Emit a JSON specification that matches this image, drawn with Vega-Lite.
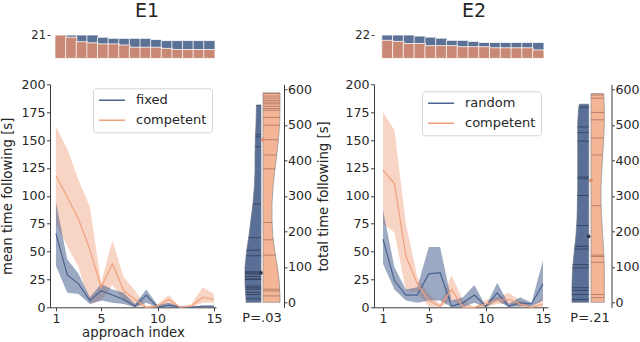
{
  "$schema": "https://vega.github.io/schema/vega-lite/v6.json",
  "background": "white",
  "padding": {"left": 0, "top": 2, "right": 0, "bottom": 0},
  "autosize": {"type": "pad"},
  "config": {
    "font": "DejaVu Sans",
    "view": {"stroke": null},
    "axis": {"labelFont": "DejaVu Sans", "titleFont": "DejaVu Sans", "labelFontSize": 12.6, "titleFontSize": 13.3, "titleFontWeight": "normal", "labelColor": "#262626", "titleColor": "#262626", "domainColor": "#3c3c3c", "tickColor": "#3c3c3c", "tickSize": 3.5, "grid": false, "labelPadding": 1.5, "titlePadding": 5, "labelOverlap": false, "labelFlush": false},
    "title": {"font": "DejaVu Sans", "fontSize": 19, "fontWeight": "normal", "color": "#262626"}
  },
  "datasets": {
    "curves": [
      {"exp":"E1","cond":"fixed","i":1,"m":66,"lo":37,"hi":94},
      {"exp":"E1","cond":"fixed","i":2,"m":29,"lo":13,"hi":43},
      {"exp":"E1","cond":"fixed","i":3,"m":21,"lo":12,"hi":30},
      {"exp":"E1","cond":"fixed","i":4,"m":6,"lo":3,"hi":9},
      {"exp":"E1","cond":"fixed","i":5,"m":15,"lo":6,"hi":21},
      {"exp":"E1","cond":"fixed","i":6,"m":11,"lo":4,"hi":16},
      {"exp":"E1","cond":"fixed","i":7,"m":7,"lo":3,"hi":13},
      {"exp":"E1","cond":"fixed","i":8,"m":1,"lo":0,"hi":3},
      {"exp":"E1","cond":"fixed","i":9,"m":11,"lo":4,"hi":16},
      {"exp":"E1","cond":"fixed","i":10,"m":0,"lo":0,"hi":2},
      {"exp":"E1","cond":"fixed","i":11,"m":2,"lo":0,"hi":4},
      {"exp":"E1","cond":"fixed","i":12,"m":0,"lo":0,"hi":1},
      {"exp":"E1","cond":"fixed","i":13,"m":0,"lo":0,"hi":1},
      {"exp":"E1","cond":"fixed","i":14,"m":1,"lo":0,"hi":1},
      {"exp":"E1","cond":"fixed","i":15,"m":1,"lo":0,"hi":1},
      {"exp":"E1","cond":"competent","i":1,"m":118,"lo":75,"hi":162},
      {"exp":"E1","cond":"competent","i":2,"m":99,"lo":55,"hi":142},
      {"exp":"E1","cond":"competent","i":3,"m":79,"lo":36,"hi":114},
      {"exp":"E1","cond":"competent","i":4,"m":52,"lo":3,"hi":90},
      {"exp":"E1","cond":"competent","i":5,"m":18,"lo":6,"hi":22},
      {"exp":"E1","cond":"competent","i":6,"m":39,"lo":20,"hi":60},
      {"exp":"E1","cond":"competent","i":7,"m":15,"lo":6,"hi":27},
      {"exp":"E1","cond":"competent","i":8,"m":7,"lo":1,"hi":15},
      {"exp":"E1","cond":"competent","i":9,"m":0,"lo":0,"hi":1},
      {"exp":"E1","cond":"competent","i":10,"m":1,"lo":0,"hi":3},
      {"exp":"E1","cond":"competent","i":11,"m":7,"lo":3,"hi":11},
      {"exp":"E1","cond":"competent","i":12,"m":0,"lo":0,"hi":0},
      {"exp":"E1","cond":"competent","i":13,"m":1,"lo":0,"hi":3},
      {"exp":"E1","cond":"competent","i":14,"m":9,"lo":4,"hi":18},
      {"exp":"E1","cond":"competent","i":15,"m":7,"lo":4,"hi":12},
      {"exp":"E2","cond":"random","i":1,"m":61,"lo":39,"hi":87},
      {"exp":"E2","cond":"random","i":2,"m":24,"lo":16,"hi":36},
      {"exp":"E2","cond":"random","i":3,"m":11,"lo":6,"hi":16},
      {"exp":"E2","cond":"random","i":4,"m":11,"lo":4,"hi":18},
      {"exp":"E2","cond":"random","i":5,"m":30,"lo":6,"hi":54},
      {"exp":"E2","cond":"random","i":6,"m":31,"lo":6,"hi":54},
      {"exp":"E2","cond":"random","i":7,"m":1,"lo":0,"hi":6},
      {"exp":"E2","cond":"random","i":8,"m":4,"lo":0,"hi":9},
      {"exp":"E2","cond":"random","i":9,"m":11,"lo":4,"hi":20},
      {"exp":"E2","cond":"random","i":10,"m":1,"lo":0,"hi":1},
      {"exp":"E2","cond":"random","i":11,"m":13,"lo":6,"hi":22},
      {"exp":"E2","cond":"random","i":12,"m":1,"lo":0,"hi":3},
      {"exp":"E2","cond":"random","i":13,"m":4,"lo":1,"hi":9},
      {"exp":"E2","cond":"random","i":14,"m":3,"lo":1,"hi":4},
      {"exp":"E2","cond":"random","i":15,"m":21,"lo":6,"hi":42},
      {"exp":"E2","cond":"competent","i":1,"m":123,"lo":75,"hi":175},
      {"exp":"E2","cond":"competent","i":2,"m":111,"lo":67,"hi":159},
      {"exp":"E2","cond":"competent","i":3,"m":46,"lo":15,"hi":75},
      {"exp":"E2","cond":"competent","i":4,"m":21,"lo":13,"hi":27},
      {"exp":"E2","cond":"competent","i":5,"m":6,"lo":1,"hi":12},
      {"exp":"E2","cond":"competent","i":6,"m":1,"lo":0,"hi":3},
      {"exp":"E2","cond":"competent","i":7,"m":16,"lo":6,"hi":29},
      {"exp":"E2","cond":"competent","i":8,"m":0,"lo":0,"hi":6},
      {"exp":"E2","cond":"competent","i":9,"m":0,"lo":0,"hi":0},
      {"exp":"E2","cond":"competent","i":10,"m":3,"lo":0,"hi":7},
      {"exp":"E2","cond":"competent","i":11,"m":6,"lo":3,"hi":9},
      {"exp":"E2","cond":"competent","i":12,"m":7,"lo":3,"hi":13},
      {"exp":"E2","cond":"competent","i":13,"m":3,"lo":0,"hi":6},
      {"exp":"E2","cond":"competent","i":14,"m":0,"lo":0,"hi":1},
      {"exp":"E2","cond":"competent","i":15,"m":3,"lo":0,"hi":9}
    ],
    "counts": [
      {"exp":"E1","cond":"fixed","i":1,"n":21},{"exp":"E1","cond":"fixed","i":2,"n":21},{"exp":"E1","cond":"fixed","i":3,"n":21},{"exp":"E1","cond":"fixed","i":4,"n":21},{"exp":"E1","cond":"fixed","i":5,"n":19},{"exp":"E1","cond":"fixed","i":6,"n":18},{"exp":"E1","cond":"fixed","i":7,"n":18},{"exp":"E1","cond":"fixed","i":8,"n":18},{"exp":"E1","cond":"fixed","i":9,"n":18},{"exp":"E1","cond":"fixed","i":10,"n":17},{"exp":"E1","cond":"fixed","i":11,"n":16},{"exp":"E1","cond":"fixed","i":12,"n":16},{"exp":"E1","cond":"fixed","i":13,"n":16},{"exp":"E1","cond":"fixed","i":14,"n":16},{"exp":"E1","cond":"fixed","i":15,"n":16},
      {"exp":"E1","cond":"competent","i":1,"n":21},{"exp":"E1","cond":"competent","i":2,"n":19},{"exp":"E1","cond":"competent","i":3,"n":15},{"exp":"E1","cond":"competent","i":4,"n":14},{"exp":"E1","cond":"competent","i":5,"n":13},{"exp":"E1","cond":"competent","i":6,"n":13},{"exp":"E1","cond":"competent","i":7,"n":12},{"exp":"E1","cond":"competent","i":8,"n":10},{"exp":"E1","cond":"competent","i":9,"n":10},{"exp":"E1","cond":"competent","i":10,"n":10},{"exp":"E1","cond":"competent","i":11,"n":9},{"exp":"E1","cond":"competent","i":12,"n":8},{"exp":"E1","cond":"competent","i":13,"n":8},{"exp":"E1","cond":"competent","i":14,"n":8},{"exp":"E1","cond":"competent","i":15,"n":8},
      {"exp":"E2","cond":"random","i":1,"n":22},{"exp":"E2","cond":"random","i":2,"n":22},{"exp":"E2","cond":"random","i":3,"n":22},{"exp":"E2","cond":"random","i":4,"n":21},{"exp":"E2","cond":"random","i":5,"n":20},{"exp":"E2","cond":"random","i":6,"n":19},{"exp":"E2","cond":"random","i":7,"n":17},{"exp":"E2","cond":"random","i":8,"n":17},{"exp":"E2","cond":"random","i":9,"n":16},{"exp":"E2","cond":"random","i":10,"n":15},{"exp":"E2","cond":"random","i":11,"n":15},{"exp":"E2","cond":"random","i":12,"n":15},{"exp":"E2","cond":"random","i":13,"n":15},{"exp":"E2","cond":"random","i":14,"n":15},{"exp":"E2","cond":"random","i":15,"n":15},
      {"exp":"E2","cond":"competent","i":1,"n":17},{"exp":"E2","cond":"competent","i":2,"n":16},{"exp":"E2","cond":"competent","i":3,"n":14},{"exp":"E2","cond":"competent","i":4,"n":14},{"exp":"E2","cond":"competent","i":5,"n":12},{"exp":"E2","cond":"competent","i":6,"n":12},{"exp":"E2","cond":"competent","i":7,"n":12},{"exp":"E2","cond":"competent","i":8,"n":11},{"exp":"E2","cond":"competent","i":9,"n":11},{"exp":"E2","cond":"competent","i":10,"n":11},{"exp":"E2","cond":"competent","i":11,"n":10},{"exp":"E2","cond":"competent","i":12,"n":10},{"exp":"E2","cond":"competent","i":13,"n":10},{"exp":"E2","cond":"competent","i":14,"n":10},{"exp":"E2","cond":"competent","i":15,"n":8}
    ],
    "violin": [
      {"exp":"E1","cond":"fixed","kind":"outline","v":0,"w":15},{"exp":"E1","cond":"fixed","kind":"outline","v":11,"w":15},{"exp":"E1","cond":"fixed","kind":"outline","v":55,"w":16},{"exp":"E1","cond":"fixed","kind":"outline","v":100,"w":16},{"exp":"E1","cond":"fixed","kind":"outline","v":145,"w":14.3},{"exp":"E1","cond":"fixed","kind":"outline","v":189,"w":12},{"exp":"E1","cond":"fixed","kind":"outline","v":234,"w":10},{"exp":"E1","cond":"fixed","kind":"outline","v":279,"w":8},{"exp":"E1","cond":"fixed","kind":"outline","v":323,"w":6.7},{"exp":"E1","cond":"fixed","kind":"outline","v":369,"w":6},{"exp":"E1","cond":"fixed","kind":"outline","v":414,"w":6},{"exp":"E1","cond":"fixed","kind":"outline","v":458,"w":5.7},{"exp":"E1","cond":"fixed","kind":"outline","v":503,"w":5},{"exp":"E1","cond":"fixed","kind":"outline","v":555,"w":4.5},
      {"exp":"E1","cond":"fixed","kind":"stick","v":555,"w":4.5},{"exp":"E1","cond":"fixed","kind":"stick","v":472,"w":5.5},{"exp":"E1","cond":"fixed","kind":"stick","v":466,"w":5.5},{"exp":"E1","cond":"fixed","kind":"stick","v":438,"w":5.8},{"exp":"E1","cond":"fixed","kind":"stick","v":277,"w":8},{"exp":"E1","cond":"fixed","kind":"stick","v":182,"w":12.3},{"exp":"E1","cond":"fixed","kind":"stick","v":147,"w":14.2},{"exp":"E1","cond":"fixed","kind":"stick","v":131,"w":14.8},{"exp":"E1","cond":"fixed","kind":"stick","v":86,"w":16},{"exp":"E1","cond":"fixed","kind":"stick","v":83,"w":16},{"exp":"E1","cond":"fixed","kind":"stick","v":80,"w":16},{"exp":"E1","cond":"fixed","kind":"stick","v":73,"w":16},{"exp":"E1","cond":"fixed","kind":"stick","v":66,"w":16},{"exp":"E1","cond":"fixed","kind":"stick","v":64,"w":16},{"exp":"E1","cond":"fixed","kind":"stick","v":46,"w":15.8},{"exp":"E1","cond":"fixed","kind":"stick","v":41,"w":15.7},{"exp":"E1","cond":"fixed","kind":"stick","v":37,"w":15.6},{"exp":"E1","cond":"fixed","kind":"stick","v":28,"w":15.4},{"exp":"E1","cond":"fixed","kind":"stick","v":22,"w":15.3},{"exp":"E1","cond":"fixed","kind":"stick","v":10,"w":15},
      {"exp":"E1","cond":"fixed","kind":"median","v":83,"w":0},
      {"exp":"E1","cond":"competent","kind":"outline","v":0,"w":17},{"exp":"E1","cond":"competent","kind":"outline","v":11,"w":17},{"exp":"E1","cond":"competent","kind":"outline","v":55,"w":16.4},{"exp":"E1","cond":"competent","kind":"outline","v":100,"w":14.4},{"exp":"E1","cond":"competent","kind":"outline","v":145,"w":11.7},{"exp":"E1","cond":"competent","kind":"outline","v":189,"w":9.7},{"exp":"E1","cond":"competent","kind":"outline","v":234,"w":9},{"exp":"E1","cond":"competent","kind":"outline","v":279,"w":9},{"exp":"E1","cond":"competent","kind":"outline","v":323,"w":10},{"exp":"E1","cond":"competent","kind":"outline","v":369,"w":11.7},{"exp":"E1","cond":"competent","kind":"outline","v":414,"w":13.7},{"exp":"E1","cond":"competent","kind":"outline","v":458,"w":15.4},{"exp":"E1","cond":"competent","kind":"outline","v":503,"w":16.7},{"exp":"E1","cond":"competent","kind":"outline","v":547,"w":17},{"exp":"E1","cond":"competent","kind":"outline","v":590,"w":17},
      {"exp":"E1","cond":"competent","kind":"stick","v":588,"w":17},{"exp":"E1","cond":"competent","kind":"stick","v":581,"w":17},{"exp":"E1","cond":"competent","kind":"stick","v":575,"w":17},{"exp":"E1","cond":"competent","kind":"stick","v":569,"w":17},{"exp":"E1","cond":"competent","kind":"stick","v":564,"w":17},{"exp":"E1","cond":"competent","kind":"stick","v":559,"w":17},{"exp":"E1","cond":"competent","kind":"stick","v":552,"w":17},{"exp":"E1","cond":"competent","kind":"stick","v":546,"w":17},{"exp":"E1","cond":"competent","kind":"stick","v":541,"w":17},{"exp":"E1","cond":"competent","kind":"stick","v":521,"w":16.9},{"exp":"E1","cond":"competent","kind":"stick","v":499,"w":16.6},{"exp":"E1","cond":"competent","kind":"stick","v":458,"w":15.4},{"exp":"E1","cond":"competent","kind":"stick","v":415,"w":13.7},{"exp":"E1","cond":"competent","kind":"stick","v":376,"w":12},{"exp":"E1","cond":"competent","kind":"stick","v":225,"w":9.1},{"exp":"E1","cond":"competent","kind":"stick","v":176,"w":10.1},{"exp":"E1","cond":"competent","kind":"stick","v":133,"w":12.3},{"exp":"E1","cond":"competent","kind":"stick","v":37,"w":16.7},{"exp":"E1","cond":"competent","kind":"stick","v":32,"w":16.8},{"exp":"E1","cond":"competent","kind":"stick","v":18,"w":16.9},
      {"exp":"E1","cond":"competent","kind":"median","v":458,"w":0},
      {"exp":"E2","cond":"random","kind":"outline","v":0,"w":16.7},{"exp":"E2","cond":"random","kind":"outline","v":9,"w":16.7},{"exp":"E2","cond":"random","kind":"outline","v":54,"w":16.7},{"exp":"E2","cond":"random","kind":"outline","v":99,"w":16},{"exp":"E2","cond":"random","kind":"outline","v":144,"w":14.4},{"exp":"E2","cond":"random","kind":"outline","v":189,"w":12.7},{"exp":"E2","cond":"random","kind":"outline","v":233,"w":11.7},{"exp":"E2","cond":"random","kind":"outline","v":324,"w":11},{"exp":"E2","cond":"random","kind":"outline","v":413,"w":11},{"exp":"E2","cond":"random","kind":"outline","v":503,"w":11},{"exp":"E2","cond":"random","kind":"outline","v":540,"w":10.3},{"exp":"E2","cond":"random","kind":"outline","v":558,"w":9.4},
      {"exp":"E2","cond":"random","kind":"stick","v":550,"w":9.7},{"exp":"E2","cond":"random","kind":"stick","v":494,"w":11},{"exp":"E2","cond":"random","kind":"stick","v":478,"w":11},{"exp":"E2","cond":"random","kind":"stick","v":454,"w":11},{"exp":"E2","cond":"random","kind":"stick","v":353,"w":11},{"exp":"E2","cond":"random","kind":"stick","v":348,"w":11},{"exp":"E2","cond":"random","kind":"stick","v":301,"w":11.2},{"exp":"E2","cond":"random","kind":"stick","v":216,"w":12},{"exp":"E2","cond":"random","kind":"stick","v":158,"w":13.9},{"exp":"E2","cond":"random","kind":"stick","v":150,"w":14.2},{"exp":"E2","cond":"random","kind":"stick","v":106,"w":15.8},{"exp":"E2","cond":"random","kind":"stick","v":97,"w":16},{"exp":"E2","cond":"random","kind":"stick","v":41,"w":16.7},{"exp":"E2","cond":"random","kind":"stick","v":34,"w":16.7},{"exp":"E2","cond":"random","kind":"stick","v":22,"w":16.7},{"exp":"E2","cond":"random","kind":"stick","v":8,"w":16.7},
      {"exp":"E2","cond":"random","kind":"median","v":186,"w":0},
      {"exp":"E2","cond":"competent","kind":"outline","v":0,"w":13.3},{"exp":"E2","cond":"competent","kind":"outline","v":9,"w":13.3},{"exp":"E2","cond":"competent","kind":"outline","v":54,"w":13.3},{"exp":"E2","cond":"competent","kind":"outline","v":99,"w":13.3},{"exp":"E2","cond":"competent","kind":"outline","v":144,"w":12.7},{"exp":"E2","cond":"competent","kind":"outline","v":189,"w":11.7},{"exp":"E2","cond":"competent","kind":"outline","v":233,"w":10.7},{"exp":"E2","cond":"competent","kind":"outline","v":278,"w":10},{"exp":"E2","cond":"competent","kind":"outline","v":324,"w":10},{"exp":"E2","cond":"competent","kind":"outline","v":368,"w":10.7},{"exp":"E2","cond":"competent","kind":"outline","v":413,"w":11.7},{"exp":"E2","cond":"competent","kind":"outline","v":458,"w":12.7},{"exp":"E2","cond":"competent","kind":"outline","v":503,"w":13.3},{"exp":"E2","cond":"competent","kind":"outline","v":548,"w":13.3},{"exp":"E2","cond":"competent","kind":"outline","v":588,"w":12.7},
      {"exp":"E2","cond":"competent","kind":"stick","v":584,"w":12.7},{"exp":"E2","cond":"competent","kind":"stick","v":575,"w":12.8},{"exp":"E2","cond":"competent","kind":"stick","v":535,"w":13.3},{"exp":"E2","cond":"competent","kind":"stick","v":514,"w":13.3},{"exp":"E2","cond":"competent","kind":"stick","v":463,"w":12.8},{"exp":"E2","cond":"competent","kind":"stick","v":415,"w":11.7},{"exp":"E2","cond":"competent","kind":"stick","v":272,"w":10.1},{"exp":"E2","cond":"competent","kind":"stick","v":133,"w":12.9},{"exp":"E2","cond":"competent","kind":"stick","v":129,"w":13},{"exp":"E2","cond":"competent","kind":"stick","v":113,"w":13.2},{"exp":"E2","cond":"competent","kind":"stick","v":22,"w":13.3},{"exp":"E2","cond":"competent","kind":"stick","v":13,"w":13.3},
      {"exp":"E2","cond":"competent","kind":"median","v":343,"w":0}
    ]
  },
  "columns": 7,
  "align": "each",
  "bounds": "flush",
  "spacing": {"row": 25.3, "column": 2},
  "resolve": {"scale": {"color": "independent", "x": "independent", "y": "independent"}, "legend": {"color": "independent"}},
  "concat": [
    {
      "width": 170, "height": 23.4,
      "title": {"text": "E1", "anchor": "middle", "dx": 12, "offset": 8},
      "data": {"name": "counts"},
      "transform": [{"filter": "datum.exp == 'E1'"}],
      "layer": [
        {"transform": [{"filter": "datum.cond == 'fixed'"}], "mark": {"type": "bar", "orient": "vertical", "width": 11.3, "color": "#5c7196", "stroke": "white", "strokeWidth": 0.8},
         "encoding": {
          "x": {"field": "i", "type": "quantitative", "scale": {"domain": [0.47, 15.53], "nice": false, "zero": false}, "axis": null},
          "y": {"field": "n", "type": "quantitative", "stack": null, "scale": {"domain": [0, 21], "nice": false}, "axis": {"values": [21], "domain": false, "tickSize": 3, "labelFontSize": 11.5, "title": null, "labelOverlap": false}}
         }},
        {"transform": [{"filter": "datum.cond == 'competent'"}], "mark": {"type": "bar", "orient": "vertical", "width": 11.3, "color": "#c88874", "stroke": "white", "strokeWidth": 0.8},
         "encoding": {
          "x": {"field": "i", "type": "quantitative"},
          "y": {"field": "n", "type": "quantitative", "stack": null}
         }}
      ]
    },
    {"width": 1, "height": 1, "data": {"values": [{"t": ""}]}, "mark": {"type": "text"}, "encoding": {"text": {"field": "t", "type": "nominal"}}},
    {"width": 1, "height": 1, "data": {"values": [{"t": ""}]}, "mark": {"type": "text"}, "encoding": {"text": {"field": "t", "type": "nominal"}}},
    {"width": 1, "height": 1, "data": {"values": [{"t": ""}]}, "mark": {"type": "text"}, "encoding": {"text": {"field": "t", "type": "nominal"}}},
    {
      "width": 174, "height": 23.4,
      "title": {"text": "E2", "anchor": "middle", "dx": 13, "offset": 8},
      "data": {"name": "counts"},
      "transform": [{"filter": "datum.exp == 'E2'"}],
      "layer": [
        {"transform": [{"filter": "datum.cond == 'random'"}], "mark": {"type": "bar", "orient": "vertical", "width": 11.4, "color": "#5c7196", "stroke": "white", "strokeWidth": 0.8},
         "encoding": {
          "x": {"field": "i", "type": "quantitative", "scale": {"domain": [0.2125, 15.44], "nice": false, "zero": false}, "axis": null},
          "y": {"field": "n", "type": "quantitative", "stack": null, "scale": {"domain": [0, 22], "nice": false}, "axis": {"values": [22], "domain": false, "tickSize": 3, "labelFontSize": 11.5, "title": null, "labelOverlap": false}}
         }},
        {"transform": [{"filter": "datum.cond == 'competent'"}], "mark": {"type": "bar", "orient": "vertical", "width": 11.4, "color": "#c88874", "stroke": "white", "strokeWidth": 0.8},
         "encoding": {
          "x": {"field": "i", "type": "quantitative"},
          "y": {"field": "n", "type": "quantitative", "stack": null}
         }}
      ]
    },
    {"width": 1, "height": 1, "data": {"values": [{"t": ""}]}, "mark": {"type": "text"}, "encoding": {"text": {"field": "t", "type": "nominal"}}},
    {"width": 1, "height": 1, "data": {"values": [{"t": ""}]}, "mark": {"type": "text"}, "encoding": {"text": {"field": "t", "type": "nominal"}}},
    {
      "width": 166, "height": 223,
      "data": {"name": "curves"},
      "transform": [{"filter": "datum.exp == 'E1'"}],
      "layer": [
        {"transform": [{"filter": "datum.cond == 'competent'"}], "mark": {"type": "area", "opacity": 0.45, "color": "#f0a07c"},
         "encoding": {
           "x": {"field": "i", "type": "quantitative", "scale": {"domain": [0.47, 15.18], "nice": false, "zero": false}, "axis": {"values": [1, 5, 10, 15], "tickCount": 20, "title": "approach index", "titlePadding": 1, "labelOverlap": false}},
           "y": {"field": "lo", "type": "quantitative", "stack": null, "scale": {"domain": [0, 200], "nice": false}, "axis": {"values": [0, 25, 50, 75, 100, 125, 150, 175, 200], "tickCount": 20, "title": "mean time following [s]", "titlePadding": 6, "labelOverlap": false}},
           "y2": {"field": "hi"}
         }},
        {"transform": [{"filter": "datum.cond == 'fixed'"}], "mark": {"type": "area", "opacity": 0.55, "color": "#4b6390"},
         "encoding": {
           "x": {"field": "i", "type": "quantitative"},
           "y": {"field": "lo", "type": "quantitative", "stack": null},
           "y2": {"field": "hi"}
         }},
        {"mark": {"type": "line", "strokeWidth": 1.2},
         "encoding": {
           "x": {"field": "i", "type": "quantitative"},
           "y": {"field": "m", "type": "quantitative"},
           "color": {"field": "cond", "type": "nominal", "scale": {"domain": ["fixed", "competent"], "range": ["#4b6390", "#f0a07c"]},
             "legend": {"title": null, "orient": "top-right", "offset": 4, "fillColor": "white", "strokeColor": "#d5d5d5", "padding": 5, "cornerRadius": 3, "labelFontSize": 13, "labelFont": "DejaVu Sans", "labelColor": "#262626", "symbolType": "stroke", "symbolSize": 676, "symbolStrokeWidth": 1.4, "labelOffset": 10, "rowPadding": 6, "clipHeight": 14}}
         }}
      ]
    },
    {
      "width": 39, "height": 223,
      "data": {"name": "violin"},
      "transform": [{"filter": "datum.exp == 'E1' && datum.cond == 'fixed'"}],
      "layer": [
        {"transform": [{"filter": "datum.kind == 'outline'"}], "mark": {"type": "area", "orient": "horizontal", "color": "#5a6f97", "stroke": "#6f7682", "strokeWidth": 0.7},
         "encoding": {
           "x": {"field": "w", "type": "quantitative", "stack": null, "scale": {"domain": [0, 39], "reverse": true, "nice": false, "zero": true}, "axis": null},
           "y": {"field": "v", "type": "quantitative", "scale": {"domain": [0, 600], "nice": false}, "axis": null}
         }},
        {"transform": [{"filter": "datum.kind == 'stick'"}], "mark": {"type": "bar", "orient": "horizontal", "height": 0.9, "color": "#35425e"},
         "encoding": {"x": {"field": "w", "type": "quantitative", "stack": null}, "y": {"field": "v", "type": "quantitative"}}},
        {"transform": [{"filter": "datum.kind == 'median'"}], "mark": {"type": "point", "filled": true, "color": "#2c354a", "size": 14, "opacity": 1},
         "encoding": {"x": {"field": "w", "type": "quantitative"}, "y": {"field": "v", "type": "quantitative"}}}
      ]
    },
    {
      "width": 21, "height": 223,
      "data": {"name": "violin"},
      "transform": [{"filter": "datum.exp == 'E1' && datum.cond == 'competent'"}],
      "layer": [
        {"transform": [{"filter": "datum.kind == 'outline'"}], "mark": {"type": "area", "orient": "horizontal", "color": "#f3b596", "stroke": "#8c8c8c", "strokeWidth": 0.7},
         "encoding": {
           "x": {"field": "w", "type": "quantitative", "stack": null, "scale": {"domain": [0, 21], "nice": false, "zero": true}, "axis": {"title": "P=.03", "labels": false, "ticks": false, "domain": false, "titleX": -1.5, "titleY": 14, "titleAlign": "center", "titleBaseline": "alphabetic", "titleFontSize": 13}},
           "y": {"field": "v", "type": "quantitative", "scale": {"domain": [0, 600], "nice": false}, "axis": {"orient": "right", "values": [0, 100, 200, 300, 400, 500, 600], "tickCount": 20, "tickSize": 3, "labelPadding": 0.5, "title": "total time following [s]", "titleAngle": 270, "titleBaseline": "top", "labelOverlap": false}}
         }},
        {"transform": [{"filter": "datum.kind == 'stick'"}], "mark": {"type": "bar", "orient": "horizontal", "height": 0.9, "color": "#b07a66"},
         "encoding": {"x": {"field": "w", "type": "quantitative", "stack": null}, "y": {"field": "v", "type": "quantitative"}}},
        {"transform": [{"filter": "datum.kind == 'median'"}], "mark": {"type": "point", "filled": true, "color": "#e28a69", "size": 14, "opacity": 1},
         "encoding": {"x": {"field": "w", "type": "quantitative"}, "y": {"field": "v", "type": "quantitative"}}}
      ]
    },
    {"width": 86, "height": 1, "data": {"values": [{"t": ""}]}, "mark": {"type": "text"}, "encoding": {"text": {"field": "t", "type": "nominal"}}},
    {
      "width": 174, "height": 223,
      "data": {"name": "curves"},
      "transform": [{"filter": "datum.exp == 'E2'"}],
      "layer": [
        {"transform": [{"filter": "datum.cond == 'competent'"}], "mark": {"type": "area", "opacity": 0.45, "color": "#f0a07c"},
         "encoding": {
           "x": {"field": "i", "type": "quantitative", "scale": {"domain": [0.2125, 15.44], "nice": false, "zero": false}, "axis": {"values": [1, 5, 10, 15], "tickCount": 20, "title": null, "labelOverlap": false}},
           "y": {"field": "lo", "type": "quantitative", "stack": null, "scale": {"domain": [0, 200], "nice": false}, "axis": {"values": [0, 25, 50, 75, 100, 125, 150, 175, 200], "tickCount": 20, "title": null, "labelOverlap": false}},
           "y2": {"field": "hi"}
         }},
        {"transform": [{"filter": "datum.cond == 'random'"}], "mark": {"type": "area", "opacity": 0.55, "color": "#4b6390"},
         "encoding": {
           "x": {"field": "i", "type": "quantitative"},
           "y": {"field": "lo", "type": "quantitative", "stack": null},
           "y2": {"field": "hi"}
         }},
        {"mark": {"type": "line", "strokeWidth": 1.2},
         "encoding": {
           "x": {"field": "i", "type": "quantitative"},
           "y": {"field": "m", "type": "quantitative"},
           "color": {"field": "cond", "type": "nominal", "scale": {"domain": ["random", "competent"], "range": ["#4b6390", "#f0a07c"]},
             "legend": {"title": null, "orient": "top-right", "offset": 7, "fillColor": "white", "strokeColor": "#d5d5d5", "padding": 5, "cornerRadius": 3, "labelFontSize": 13, "labelFont": "DejaVu Sans", "labelColor": "#262626", "symbolType": "stroke", "symbolSize": 676, "symbolStrokeWidth": 1.4, "labelOffset": 10, "rowPadding": 6, "clipHeight": 14}}
         }}
      ]
    },
    {
      "width": 38.7, "height": 223,
      "data": {"name": "violin"},
      "transform": [{"filter": "datum.exp == 'E2' && datum.cond == 'random'"}],
      "layer": [
        {"transform": [{"filter": "datum.kind == 'outline'"}], "mark": {"type": "area", "orient": "horizontal", "color": "#5a6f97", "stroke": "#6f7682", "strokeWidth": 0.7},
         "encoding": {
           "x": {"field": "w", "type": "quantitative", "stack": null, "scale": {"domain": [0, 38.7], "reverse": true, "nice": false, "zero": true}, "axis": null},
           "y": {"field": "v", "type": "quantitative", "scale": {"domain": [0, 600], "nice": false}, "axis": null}
         }},
        {"transform": [{"filter": "datum.kind == 'stick'"}], "mark": {"type": "bar", "orient": "horizontal", "height": 0.9, "color": "#35425e"},
         "encoding": {"x": {"field": "w", "type": "quantitative", "stack": null}, "y": {"field": "v", "type": "quantitative"}}},
        {"transform": [{"filter": "datum.kind == 'median'"}], "mark": {"type": "point", "filled": true, "color": "#2c354a", "size": 14, "opacity": 1},
         "encoding": {"x": {"field": "w", "type": "quantitative"}, "y": {"field": "v", "type": "quantitative"}}}
      ]
    },
    {
      "width": 20.5, "height": 223,
      "data": {"name": "violin"},
      "transform": [{"filter": "datum.exp == 'E2' && datum.cond == 'competent'"}],
      "layer": [
        {"transform": [{"filter": "datum.kind == 'outline'"}], "mark": {"type": "area", "orient": "horizontal", "color": "#f3b596", "stroke": "#8c8c8c", "strokeWidth": 0.7},
         "encoding": {
           "x": {"field": "w", "type": "quantitative", "stack": null, "scale": {"domain": [0, 20.5], "nice": false, "zero": true}, "axis": {"title": "P=.21", "labels": false, "ticks": false, "domain": false, "titleX": -1.5, "titleY": 14, "titleAlign": "center", "titleBaseline": "alphabetic", "titleFontSize": 13}},
           "y": {"field": "v", "type": "quantitative", "scale": {"domain": [0, 600], "nice": false}, "axis": {"orient": "right", "values": [0, 100, 200, 300, 400, 500, 600], "tickCount": 20, "tickSize": 3, "labelPadding": 0.5, "title": null, "labelOverlap": false}}
         }},
        {"transform": [{"filter": "datum.kind == 'stick'"}], "mark": {"type": "bar", "orient": "horizontal", "height": 0.9, "color": "#b07a66"},
         "encoding": {"x": {"field": "w", "type": "quantitative", "stack": null}, "y": {"field": "v", "type": "quantitative"}}},
        {"transform": [{"filter": "datum.kind == 'median'"}], "mark": {"type": "point", "filled": true, "color": "#e28a69", "size": 14, "opacity": 1},
         "encoding": {"x": {"field": "w", "type": "quantitative"}, "y": {"field": "v", "type": "quantitative"}}}
      ]
    }
  ]
}
